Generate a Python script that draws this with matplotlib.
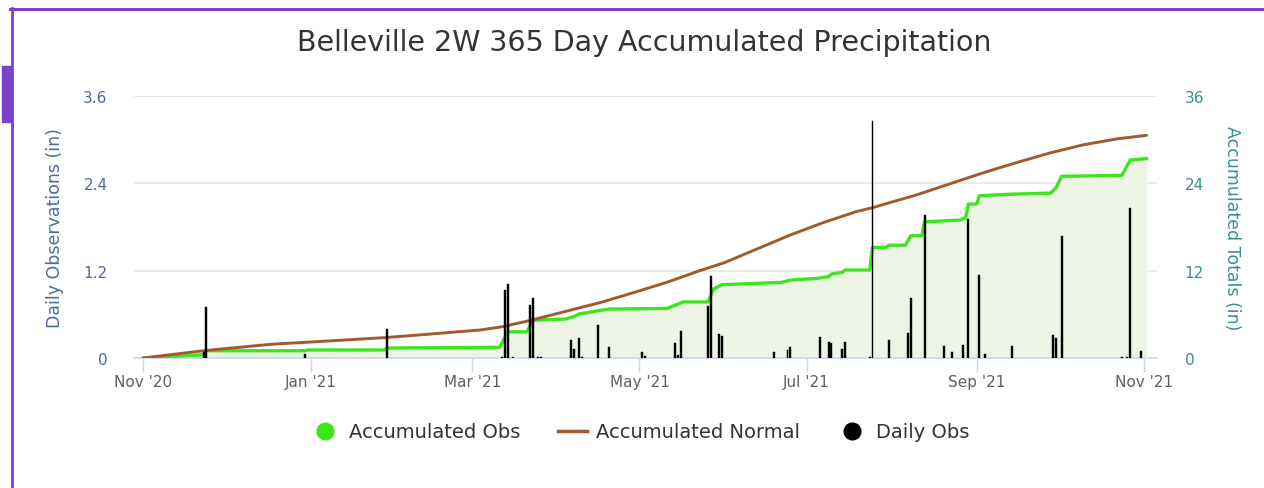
import matplotlib
matplotlib.use("Agg")
import matplotlib.pyplot as plt
from matplotlib.lines import Line2D
from matplotlib.patches import Rectangle
import pandas as pd

# ---------------- data ----------------
title = "Belleville 2W 365 Day Accumulated Precipitation"

daily_dates = [
    "2020-11-23", "2020-11-24", "2020-12-30", "2021-01-29", "2021-03-12", "2021-03-13",
    "2021-03-14", "2021-03-16", "2021-03-22", "2021-03-23", "2021-03-25", "2021-03-26",
    "2021-04-06", "2021-04-07", "2021-04-09", "2021-04-10", "2021-04-16", "2021-04-20",
    "2021-05-02", "2021-05-03", "2021-05-14", "2021-05-15", "2021-05-16", "2021-05-26",
    "2021-05-27", "2021-05-30", "2021-05-31", "2021-06-19", "2021-06-24", "2021-06-25",
    "2021-07-06", "2021-07-09", "2021-07-10", "2021-07-14", "2021-07-15", "2021-07-24",
    "2021-07-25", "2021-07-31", "2021-08-07", "2021-08-08", "2021-08-13", "2021-08-20",
    "2021-08-23", "2021-08-27", "2021-08-29", "2021-09-02", "2021-09-04", "2021-09-14",
    "2021-09-29", "2021-09-30", "2021-10-02", "2021-10-24", "2021-10-26", "2021-10-27",
    "2021-10-31",
]
daily_vals = [
    0.08, 0.70, 0.05, 0.40, 0.02, 0.93,
    1.01, 0.02, 0.73, 0.82, 0.02, 0.02,
    0.25, 0.12, 0.27, 0.02, 0.46, 0.15,
    0.08, 0.03, 0.20, 0.04, 0.37, 0.72,
    1.12, 0.33, 0.30, 0.08, 0.11, 0.15,
    0.29, 0.22, 0.20, 0.12, 0.22, 0.02,
    3.25, 0.25, 0.34, 0.82, 1.97, 0.17,
    0.08, 0.18, 1.91, 1.14, 0.06, 0.17,
    0.32, 0.27, 1.67, 0.02, 0.02, 2.06,
    0.10,
]

acc_obs_dates = [
    "2020-11-01", "2020-11-23", "2020-11-24", "2020-12-30", "2020-12-31", "2021-01-28",
    "2021-01-29", "2021-03-11", "2021-03-14", "2021-03-21", "2021-03-23", "2021-04-04",
    "2021-04-07", "2021-04-09", "2021-04-16", "2021-04-20", "2021-05-11", "2021-05-15",
    "2021-05-17", "2021-05-26", "2021-05-28", "2021-05-31", "2021-06-22", "2021-06-25",
    "2021-07-05", "2021-07-09", "2021-07-10", "2021-07-14", "2021-07-15", "2021-07-24",
    "2021-07-25", "2021-07-30", "2021-07-31", "2021-08-06", "2021-08-08", "2021-08-12",
    "2021-08-13", "2021-08-26", "2021-08-28", "2021-08-29", "2021-09-01", "2021-09-02",
    "2021-09-13", "2021-09-28", "2021-09-30", "2021-10-02", "2021-10-24", "2021-10-27",
    "2021-11-02",
]
acc_obs_vals = [
    0.0, 0.45, 1.0, 1.0, 1.1, 1.1,
    1.37, 1.47, 3.6, 3.6, 5.2, 5.36,
    5.68, 6.04, 6.5, 6.73, 6.8, 7.4,
    7.7, 7.7, 9.48, 10.07, 10.4, 10.7,
    10.95, 11.2, 11.54, 11.77, 12.09, 12.09,
    15.2, 15.2, 15.5, 15.5, 16.8, 16.8,
    18.7, 18.96, 19.3, 21.15, 21.15, 22.3,
    22.5, 22.66, 23.4, 24.96, 25.1, 27.2,
    27.4,
]

normal_dates = [
    "2020-11-01", "2020-11-23", "2020-12-18", "2020-12-30", "2021-01-08", "2021-01-28",
    "2021-02-14", "2021-03-04", "2021-03-12", "2021-03-22", "2021-04-05", "2021-04-17",
    "2021-04-29", "2021-05-11", "2021-05-23", "2021-06-01", "2021-06-13", "2021-06-25",
    "2021-07-07", "2021-07-19", "2021-07-25", "2021-07-29", "2021-08-10", "2021-08-22",
    "2021-09-03", "2021-09-16", "2021-09-28", "2021-10-10", "2021-10-22", "2021-11-02",
]
normal_vals = [
    0.0, 1.0, 1.9, 2.15, 2.35, 2.8,
    3.3, 3.85, 4.3, 5.15, 6.5, 7.65,
    9.0, 10.4, 12.0, 13.1, 15.0, 16.9,
    18.6, 20.1, 20.65, 21.1, 22.4, 23.9,
    25.4, 26.9, 28.2, 29.3, 30.1, 30.6,
]

xtick_dates = ["2020-11-01", "2021-01-01", "2021-03-01", "2021-05-01",
               "2021-07-01", "2021-09-01", "2021-11-01"]
xtick_labels = ["Nov '20", "Jan '21", "Mar '21", "May '21", "Jul '21", "Sep '21", "Nov '21"]
left_ticks = [0, 1.2, 2.4, 3.6]
left_labels = ["0", "1.2", "2.4", "3.6"]
right_ticks = [0, 12, 24, 36]
right_labels = ["0", "12", "24", "36"]
series_names = ["Accumulated Obs", "Accumulated Normal", "Daily Obs"]

# ---------------- style ----------------
GREEN = "#3ce61c"
FILL = "#edf4e6"
BROWN = "#a3592e"
GRID = "#e6e6e6"
AXIS = "#ccd6eb"
LEFTC = "#4d6b9b"
RIGHTC = "#3a8f8f"
TXT = "#333333"

plt.rcParams["font.family"] = ["DejaVu Sans"]

W, H = 1264, 489
fig = plt.figure(figsize=(W / 100, H / 100), dpi=100, facecolor="white")

L, R, T, B = 134, 1157, 97, 359
ax2 = fig.add_axes([L / W, 1 - B / H, (R - L) / W, (B - T) / H])
ax = ax2.twinx()
ax.yaxis.tick_left()
ax.yaxis.set_label_position("left")
ax2.yaxis.tick_right()
ax2.yaxis.set_label_position("right")
ax.set_zorder(ax2.get_zorder() + 1)
ax.patch.set_visible(False)

d_daily = pd.to_datetime(daily_dates)
d_acc = pd.to_datetime(acc_obs_dates)
d_norm = pd.to_datetime(normal_dates)

# accumulated series on right axis
ax2.fill_between(d_acc, 0, acc_obs_vals, color=FILL, lw=0, zorder=1)
ax2.plot(d_acc, acc_obs_vals, color=GREEN, lw=2.4, zorder=3, solid_joinstyle="round")
ax2.plot(d_norm, normal_vals, color=BROWN, lw=2.1, zorder=4, solid_capstyle="round")
ax2.set_ylim(0, 36)
ax2.set_yticks(right_ticks)
ax2.set_yticklabels(right_labels)
ax2.grid(axis="y", color=GRID, lw=1.2, zorder=0)
ax2.set_axisbelow(True)

# daily bars on left axis
ax.bar(d_daily, daily_vals, width=0.7, color="black", edgecolor="black", lw=0.3, zorder=5)
ax.set_ylim(0, 3.6)
ax.set_yticks(left_ticks)
ax.set_yticklabels(left_labels)

x0 = pd.Timestamp("2020-11-01") - pd.Timedelta(days=3.4)
x1 = pd.Timestamp("2020-11-01") + pd.Timedelta(days=369.8)
for a in (ax, ax2):
    a.set_xlim(x0, x1)
    for s in a.spines.values():
        s.set_visible(False)

ax2.set_xticks(pd.to_datetime(xtick_dates))
ax2.set_xticklabels(xtick_labels)
ax2.tick_params(axis="x", length=10, width=1, color=AXIS, labelcolor="#606060",
                labelsize=11, pad=1.5)
ax2.spines["bottom"].set_visible(True)
ax2.spines["bottom"].set_color(AXIS)
ax2.spines["bottom"].set_linewidth(1.2)

ax.tick_params(axis="y", length=0, labelsize=11, colors=LEFTC, pad=19)
ax2.tick_params(axis="y", length=0, labelsize=11, colors=RIGHTC, pad=20)

ax.set_ylabel("Daily Observations (in)", color=LEFTC, fontsize=12.5, va="center")
ax.yaxis.set_label_coords((55 - L) / (R - L), 0.5)
ax2.set_ylabel("Accumulated Totals (in)", color=RIGHTC, fontsize=12.5, rotation=270,
               va="center")
ax2.yaxis.set_label_coords((1232 - L) / (R - L), 0.5)

fig.text(644 / W, 1 - 43 / H, title, ha="center", va="center", fontsize=20.5, color=TXT)

handles = [
    Line2D([], [], marker="o", ls="none", markerfacecolor=GREEN, markeredgecolor=GREEN,
           markersize=12),
    Line2D([], [], color=BROWN, lw=2.5),
    Line2D([], [], marker="o", ls="none", markerfacecolor="black", markeredgecolor="black",
           markersize=12),
]
fig.legend(handles, series_names, loc="center", bbox_to_anchor=(0.5 + 8 / W, 1 - 433 / H),
           ncol=3, frameon=False, fontsize=14, labelcolor=TXT, handlelength=1.5,
           handletextpad=0.45, columnspacing=1.95)

# purple page frame
PURPLE = "#7b42c9"
fig.add_artist(Line2D([10 / W, 1], [1 - 9.5 / H] * 2, color=PURPLE, lw=2.2,
                      transform=fig.transFigure))
fig.add_artist(Line2D([12 / W, 12 / W], [0, 1 - 9 / H], color=PURPLE, lw=2.0,
                      transform=fig.transFigure))
fig.add_artist(Rectangle((2 / W, 1 - 123 / H), 9 / W, 56 / H, color=PURPLE,
                         transform=fig.transFigure))

fig.savefig("out.png", dpi=100, facecolor="white")
